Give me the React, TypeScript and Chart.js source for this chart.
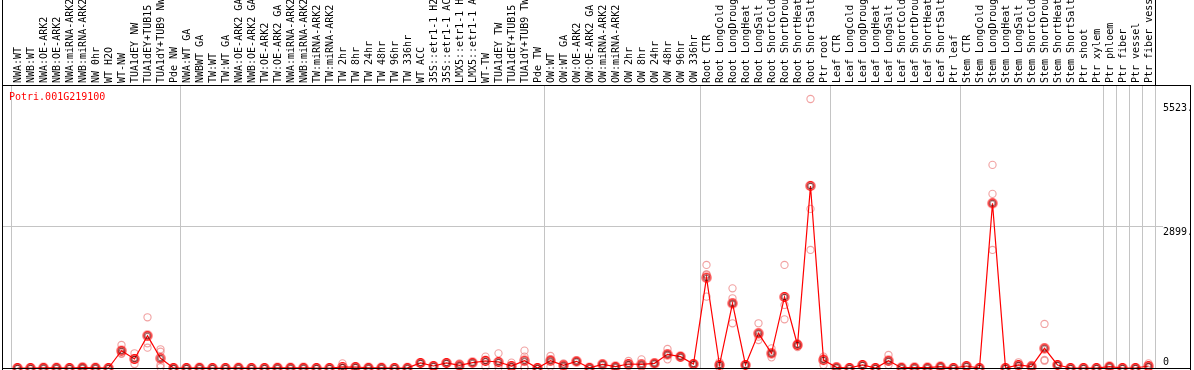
import React, { useEffect, useRef } from "react";
import { Chart, registerables } from "chart.js";

Chart.register(...registerables);

const geneName = "Potri.001G219100";

const categories = [
  "NWA:WT", "NWB:WT", "NWA:OE-ARK2", "NWB:OE-ARK2", "NWA:miRNA-ARK2", "NWB:miRNA-ARK2", "NW 0hr", "WT H2O", "WT-NW", "TUA1dEY NW", "TUA1dEY+TUB15 NW", "TUA1dY+TUB9 NW", "Pde NW",
  "NWA:WT GA", "NWBWT GA", "TW:WT", "TW:WT GA", "NWA:OE-ARK2 GA", "NWB:OE-ARK2 GA", "TW:OE-ARK2", "TW:OE-ARK2 GA", "NWA:miRNA-ARK2 GA", "NWB:miRNA-ARK2 GA", "TW:miRNA-ARK2", "TW:miRNA-ARK2 GA", "TW 2hr", "TW 8hr", "TW 24hr", "TW 48hr", "TW 96hr", "TW 336hr", "WT ACC", "35S::etr1-1 H2O", "35S::etr1-1 ACC", "LMX5::etr1-1 H2O", "LMX5::etr1-1 ACC", "WT-TW", "TUA1dEY TW", "TUA1dEY+TUB15 TW", "TUA1dY+TUB9 TW", "Pde TW",
  "OW:WT", "OW:WT GA", "OW:OE-ARK2", "OW:OE-ARK2 GA", "OW:miRNA-ARK2", "OW:miRNA-ARK2 GA", "OW 2hr", "OW 8hr", "OW 24hr", "OW 48hr", "OW 96hr", "OW 336hr",
  "Root CTR", "Root LongCold", "Root LongDrought", "Root LongHeat", "Root LongSalt", "Root ShortCold", "Root ShortDrought", "Root ShortHeat", "Root ShortSalt", "Ptr root",
  "Leaf CTR", "Leaf LongCold", "Leaf LongDrought", "Leaf LongHeat", "Leaf LongSalt", "Leaf ShortCold", "Leaf ShortDrought", "Leaf ShortHeat", "Leaf ShortSalt", "Ptr leaf",
  "Stem CTR", "Stem LongCold", "Stem LongDrought", "Stem LongHeat", "Stem LongSalt", "Stem ShortCold", "Stem ShortDrought", "Stem ShortHeat", "Stem ShortSalt", "Ptr shoot", "Ptr xylem",
  "Ptr phloem", "Ptr fiber", "Ptr vessel", "Ptr fiber vessel",
];

const groupSizes = [13, 28, 12, 10, 10, 11, 1, 1, 1, 1];

const meanValues = [
  0, 0, 5, 5, 0, 8, 5, 0, 355, 185, 664, 199, 0,
  0, 5, 0, 0, 5, 0, 0, 5, 5, 5, 0, 0, 20, 20, 5, 5, 0, 3, 103, 41, 103, 55, 110, 144, 123, 41, 151, 0,
  151, 55, 137, 5, 75, 27, 82, 75, 96, 281, 233, 82,
  1855, 62, 1328, 62, 712, 301, 1458, 472, 3738, 164,
  14, 0, 62, 0, 151, 7, 7, 7, 27, 0,
  41, 0, 3382, 0, 62, 27, 404, 62, 0, 0, 0,
  27, 0, 0, 41,
];

const rep1 = [
  0, 0, 10, 10, 0, 25, 10, 0, 472, 302, 1041, 384, 0,
  0, 10, 0, 0, 10, 0, 0, 10, 10, 10, 0, 0, 96, 30, 10, 10, 0, 5, 103, 41, 103, 96, 110, 233, 301, 110, 356, 0,
  246, 96, 137, 5, 75, 27, 144, 178, 96, 390, 250, 82,
  2116, 120, 1636, 62, 918, 404, 2116, 510, 5523, 233,
  14, 0, 62, 0, 267, 7, 7, 7, 27, 0,
  41, 0, 4170, 0, 117, 62, 904, 62, 0, 0, 0,
  27, 0, 0, 96,
];

const rep2 = [
  0, 0, 5, 5, 0, 5, 5, 0, 355, 185, 664, 335, 0,
  0, 5, 0, 0, 5, 0, 0, 5, 5, 5, 0, 0, 0, 20, 5, 5, 0, 3, 103, 41, 103, 55, 110, 170, 123, 41, 233, 0,
  180, 55, 137, 5, 75, 27, 82, 75, 96, 281, 233, 82,
  1924, 62, 1431, 62, 712, 301, 1458, 472, 3738, 200,
  14, 0, 62, 0, 151, 7, 7, 7, 27, 0,
  41, 0, 3574, 0, 62, 27, 404, 62, 0, 0, 0,
  27, 0, 0, 41,
];

const rep3 = [
  0, 0, 0, 0, 0, 0, 0, 0, 302, 170, 507, 62, 0,
  0, 0, 0, 0, 0, 0, 0, 0, 0, 0, 0, 0, 0, 15, 0, 0, 0, 0, 103, 41, 103, 40, 110, 144, 60, 10, 10, 0,
  151, 50, 137, 5, 75, 27, 60, 30, 96, 281, 233, 82,
  1915, 62, 1328, 62, 644, 301, 1294, 472, 3266, 164,
  14, 0, 62, 0, 130, 7, 7, 7, 27, 0,
  41, 0, 3382, 0, 50, 10, 164, 62, 0, 0, 0,
  27, 0, 0, 20,
];

const rep4 = [
  0, 0, 5, 5, 0, 0, 5, 0, 290, 82, 417, 15, 0,
  0, 5, 0, 0, 5, 0, 0, 5, 5, 5, 0, 0, 0, 15, 5, 5, 0, 3, 103, 41, 103, 30, 110, 27, 10, 5, 5, 0,
  27, 20, 137, 5, 75, 27, 42, 20, 96, 178, 216, 82,
  1465, 5, 918, 62, 575, 219, 1000, 430, 2424, 62,
  14, 0, 62, 0, 62, 7, 7, 7, 27, 0,
  41, 0, 2424, 0, 20, 10, 150, 62, 0, 0, 0,
  27, 0, 0, 7,
];

const yTickValues = [0, 2899, 5523];
const yTickLabels = ["0", "2899.", "5523."];
const yAxisMax = 5810;

const MONO = "'DejaVu Sans Mono', 'Liberation Mono', monospace";
const GRID_GRAY = "#c4c4c4";
const RED = "#ff0000";
const PINK = "rgba(236,125,125,0.72)";

function groupBoundaryIndices(): number[] {
  const out = [0];
  let acc = 0;
  for (const s of groupSizes) {
    acc += s;
    out.push(acc);
  }
  return out;
}

function makeMeanMarker(): HTMLCanvasElement {
  const c = document.createElement("canvas");
  c.width = 12;
  c.height = 12;
  const g = c.getContext("2d")!;
  g.lineWidth = 1.2;
  g.strokeStyle = RED;
  g.beginPath();
  g.arc(6, 6, 4.3, 0, Math.PI * 2);
  g.stroke();
  g.lineWidth = 0.9;
  g.strokeStyle = "#5a0000";
  g.beginPath();
  g.arc(6, 6, 2.8, 0, Math.PI * 2);
  g.stroke();
  return c;
}

const framePlugin = {
  id: "frame",
  beforeDatasetsDraw(chart: any) {
    const { ctx, chartArea } = chart;
    const y = chart.scales.y;
    const gy = Math.floor(y.getPixelForValue(yTickValues[1]));
    ctx.save();
    ctx.fillStyle = GRID_GRAY;
    ctx.fillRect(2, gy, chartArea.left - 2, 1);
    ctx.fillRect(chartArea.right, gy, 8, 1);
    ctx.restore();
  },
  afterDraw(chart: any) {
    const { ctx, chartArea } = chart;
    const y = chart.scales.y;
    const W = chart.width;
    const H = chart.height;
    const frameLeft = 2;
    const frameRight = W - 4;
    ctx.save();
    ctx.fillStyle = "#000";
    ctx.fillRect(frameLeft, 0, 1, H);
    ctx.fillRect(frameLeft, chartArea.top, frameRight - frameLeft + 1, 1);
    ctx.fillRect(chartArea.right, 0, 1, chartArea.top);
    ctx.fillRect(frameRight, chartArea.top, 1, H - chartArea.top);
    ctx.fillRect(frameLeft, chartArea.bottom, frameRight - frameLeft + 1, 1);

    ctx.fillStyle = RED;
    ctx.font = `10px ${MONO}`;
    ctx.textAlign = "left";
    ctx.textBaseline = "middle";
    ctx.fillText(geneName, 9, chartArea.top + 12);

    ctx.fillStyle = "#000";
    const offsets = [-6, 5.5, 9];
    yTickValues.forEach((v, i) => {
      const py = y.getPixelForValue(v) + offsets[i];
      ctx.fillText(yTickLabels[i], chartArea.right + 8, py);
    });
    ctx.restore();
  },
};

export default function App() {
  const canvasRef = useRef<HTMLCanvasElement | null>(null);

  useEffect(() => {
    const canvas = canvasRef.current;
    if (!canvas) return;
    const bounds = groupBoundaryIndices();
    const meanMarker = makeMeanMarker();
    const repDataset = (data: number[]) => ({
      data,
      showLine: false,
      order: 1,
      pointStyle: "circle",
      pointRadius: 3.6,
      pointBorderWidth: 1.1,
      pointBorderColor: PINK,
      pointBackgroundColor: "rgba(0,0,0,0)",
      borderColor: PINK,
      backgroundColor: "rgba(0,0,0,0)",
      clip: false as any,
    });
    const chart = new Chart(canvas, {
      type: "line",
      data: {
        labels: categories,
        datasets: [
          repDataset(rep1),
          repDataset(rep2),
          repDataset(rep3),
          repDataset(rep4),
          {
            data: meanValues,
            order: 0,
            borderColor: RED,
            borderWidth: 1.2,
            tension: 0,
            pointStyle: meanMarker as any,
            pointRadius: 5,
            clip: false as any,
          },
        ],
      },
      plugins: [framePlugin],
      options: {
        responsive: false,
        devicePixelRatio: 1,
        animation: false,
        events: [],
        layout: { autoPadding: false, padding: { left: 11, right: 0, top: 0, bottom: 2 } },
        plugins: { legend: { display: false }, tooltip: { enabled: false }, title: { display: false } },
        scales: {
          x: {
            type: "category",
            position: "top",
            offset: true,
            border: { display: false },
            grid: {
              offset: true,
              drawTicks: false,
              lineWidth: 1,
              color: (ctx: any) =>
                ctx.type !== "tick" || bounds.includes(ctx.index) ? GRID_GRAY : "rgba(0,0,0,0)",
            },
            ticks: {
              autoSkip: false,
              minRotation: 90,
              maxRotation: 90,
              padding: 2,
              labelOffset: 13,
              color: "#000",
              font: { family: MONO, size: 10 },
            },
            afterFit: (s: any) => {
              s.height = 85;
            },
          },
          y: {
            position: "right",
            min: 0,
            max: yAxisMax,
            border: { display: false },
            afterBuildTicks: (s: any) => {
              s.ticks = yTickValues.map((v) => ({ value: v }));
            },
            grid: {
              drawTicks: false,
              color: (ctx: any) => (ctx.tick && ctx.tick.value === yTickValues[1] ? GRID_GRAY : "rgba(0,0,0,0)"),
            },
            ticks: { display: false },
            afterFit: (s: any) => {
              s.width = 39;
            },
          },
        },
      },
    });
    return () => chart.destroy();
  }, []);

  return (
    <div style={{ position: "absolute", left: 0, top: 0, width: 1194, height: 370, background: "#fff" }}>
      <canvas ref={canvasRef} width={1194} height={370} style={{ display: "block" }} />
    </div>
  );
}
